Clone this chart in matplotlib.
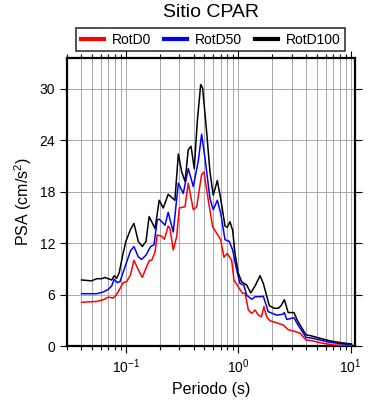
import matplotlib
matplotlib.use("Agg")
import matplotlib.pyplot as plt
from matplotlib.ticker import FixedLocator, LogLocator, NullFormatter

plt.rcParams["font.family"] = ["Liberation Sans", "DejaVu Sans"]
plt.rcParams["mathtext.default"] = "regular"

# periods (s) and PSA (cm/s^2)
T_D100 = [0.0404, 0.0496, 0.055, 0.0609, 0.0652, 0.0697, 0.0748, 0.0788, 0.0828, 0.0873,
          0.0937, 0.100, 0.110, 0.118, 0.129, 0.140, 0.151, 0.161, 0.182, 0.198,
          0.215, 0.238, 0.273, 0.293, 0.314, 0.336, 0.359, 0.380, 0.406, 0.432,
          0.463, 0.482, 0.523, 0.560, 0.599, 0.651, 0.697, 0.762, 0.798, 0.843,
          0.891, 0.935, 1.0, 1.07, 1.19, 1.29, 1.41, 1.56, 1.67, 1.89,
          2.09, 2.27, 2.40, 2.57, 2.78, 3.13, 3.35, 4.00, 4.41, 5.33,
          6.54, 8.04, 10.2]
PSA_D100 = [7.7, 7.6, 7.85, 7.85, 8.0, 7.85, 7.7, 8.2, 7.9, 8.55,
            10.6, 12.2, 13.6, 14.3, 12.2, 11.6, 12.2, 15.1, 13.7, 17.0,
            16.1, 17.7, 17.0, 22.4, 20.3, 19.2, 22.9, 23.3, 20.7, 26.2,
            30.5, 30.1, 25.0, 20.3, 17.6, 19.3, 17.2, 14.0, 13.85, 14.5,
            13.5, 10.8, 8.5, 7.5, 7.1, 6.2, 7.0, 8.2, 7.3, 4.7,
            4.4, 4.4, 4.7, 5.4, 3.9, 3.9, 3.0, 1.3, 1.2, 0.9,
            0.6, 0.4, 0.23]

T_D50 = [0.0404, 0.055, 0.0629, 0.0697, 0.0748, 0.0788, 0.0838, 0.0886, 0.0962, 0.1017,
         0.110, 0.118, 0.129, 0.138, 0.151, 0.166, 0.178, 0.190, 0.198, 0.223,
         0.238, 0.264, 0.293, 0.324, 0.359, 0.398, 0.441, 0.472, 0.506, 0.560,
         0.599, 0.651, 0.697, 0.762, 0.832, 0.891, 0.954, 1.035, 1.12, 1.19,
         1.32, 1.41, 1.56, 1.67, 1.85, 2.20, 2.48, 2.57, 2.70, 3.13,
         3.35, 4.00, 4.49, 5.33, 6.54, 10.2]
PSA_D50 = [6.1, 6.1, 6.3, 6.6, 7.0, 7.8, 7.4, 7.5, 8.9, 9.8,
           11.1, 11.6, 10.4, 10.1, 10.6, 11.6, 11.8, 14.7, 14.8, 14.1,
           15.6, 13.3, 19.0, 17.8, 20.7, 18.6, 21.6, 24.7, 21.9, 17.2,
           15.9, 17.0, 15.5, 12.4, 12.2, 11.2, 9.25, 7.3, 7.1, 5.9,
           5.45, 5.75, 5.75, 5.8, 4.0, 3.6, 3.7, 3.9, 3.1, 3.3,
           2.6, 1.0, 0.93, 0.7, 0.43, 0.12]

T_D0 = [0.0404, 0.055, 0.0629, 0.0697, 0.0773, 0.0828, 0.0886, 0.0948, 0.1017, 0.110,
        0.118, 0.129, 0.140, 0.153, 0.162, 0.170, 0.182, 0.190, 0.208, 0.220,
        0.238, 0.247, 0.264, 0.283, 0.299, 0.336, 0.359, 0.398, 0.427, 0.472,
        0.495, 0.541, 0.592, 0.643, 0.697, 0.746, 0.798, 0.873, 0.916, 1.0,
        1.09, 1.15, 1.23, 1.32, 1.41, 1.51, 1.61, 1.69, 1.79, 1.91,
        2.20, 2.51, 2.78, 3.19, 3.54, 4.00, 4.49, 5.33, 7.0, 10.2]
PSA_D0 = [5.1, 5.2, 5.4, 5.7, 5.6, 6.0, 6.7, 7.4, 7.5, 8.3,
          10.0, 8.9, 8.0, 9.25, 10.0, 10.0, 11.0, 12.95, 12.8, 12.45,
          14.0, 13.7, 11.2, 12.75, 16.1, 16.25, 19.0, 15.9, 16.25, 20.0,
          20.3, 17.0, 13.9, 13.15, 12.4, 10.35, 10.8, 10.0, 7.7, 6.9,
          6.15, 6.15, 4.2, 3.8, 4.2, 3.6, 3.4, 4.6, 3.4, 2.95,
          2.7, 2.45, 1.9, 1.7, 1.5, 0.7, 0.62, 0.38, 0.12, 0.05]

Y_TICKS = [0, 6, 12, 18, 24, 30]


def main():
    fig = plt.figure(figsize=(3.9, 4.0), dpi=100)
    ax = fig.add_axes([0.172, 0.135, 0.738, 0.72])

    ax.plot(T_D0, PSA_D0, color="red", lw=1.1, label="RotD0", zorder=3)
    ax.plot(T_D50, PSA_D50, color="blue", lw=1.1, label="RotD50", zorder=4)
    ax.plot(T_D100, PSA_D100, color="black", lw=1.1, label="RotD100", zorder=5)

    ax.set_xscale("log")
    ax.set_xlim(0.03, 10.9)
    ax.set_ylim(0, 33.6)
    ax.yaxis.set_major_locator(FixedLocator(Y_TICKS))
    ax.xaxis.set_major_locator(LogLocator(base=10))
    ax.xaxis.set_minor_locator(LogLocator(base=10, subs=range(2, 10)))
    ax.xaxis.set_minor_formatter(NullFormatter())

    ax.grid(axis="x", which="both", color="#9a9a9a", lw=0.6, zorder=0)
    ax.grid(axis="y", which="major", color="#9a9a9a", lw=0.6, zorder=0)
    ax.set_axisbelow(True)

    ax.tick_params(which="both", direction="out", top=True, right=True,
                   width=0.8, labelsize=10)
    ax.tick_params(which="major", length=5)
    ax.tick_params(which="minor", length=3)
    for s in ax.spines.values():
        s.set_linewidth(1.6)

    ax.set_xlabel("Periodo (s)", fontsize=11.5)
    ax.set_ylabel("PSA (cm/s$^2$)", fontsize=11.5)

    fig.text(0.54, 0.968, "Sitio CPAR", ha="center", va="center", fontsize=14)
    leg = fig.legend(loc="center", bbox_to_anchor=(0.54, 0.901), ncol=3,
                     fontsize=10, frameon=True, fancybox=False,
                     handlelength=1.7, handletextpad=0.55, columnspacing=0.9,
                     borderpad=0.3, borderaxespad=0)
    leg.get_frame().set_edgecolor("black")
    leg.get_frame().set_linewidth(1.2)
    for line in leg.get_lines():
        line.set_linewidth(3)

    fig.savefig("out.png", dpi=100)


if __name__ == "__main__":
    main()
